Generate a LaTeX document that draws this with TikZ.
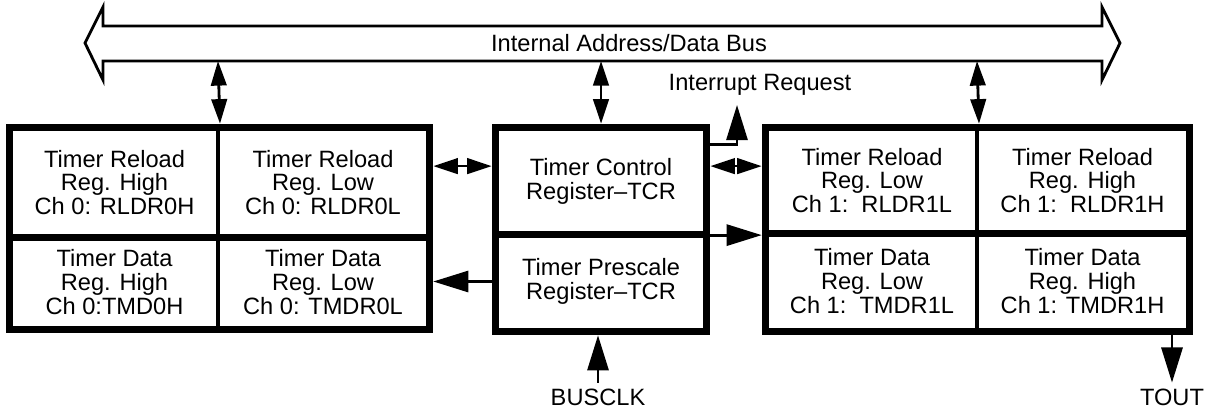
\documentclass[tikz,border=0pt]{standalone}
\usepackage{fontspec}
\setmainfont{Liberation Sans}
\usetikzlibrary{calc,arrows.meta}

\begin{document}
\begin{tikzpicture}[x=0.025cm,y=-0.025cm,
  cell/.style={draw,line width=3pt,align=center,inner sep=0pt,
    font=\fontsize{16.8}{17}\selectfont},
  outline/.style={line width=4.5pt},
  lbl/.style={font=\fontsize{16.8}{17}\selectfont},
  bidir/.style={{Triangle[length=17.5pt,width=11pt]}-{Triangle[length=17.5pt,width=11pt]},line width=2pt},
  feed/.style={-{Triangle[length=25pt,width=15pt]},line width=2pt}]

\useasboundingbox (0,0) rectangle (1214,409);

% ----- helper: register cell between two corners -----
% \RegCell{name}{x1}{y1}{x2}{y2}{text}
\newcommand{\RegCell}[6]{%
  \node[cell,minimum width={(#4-#2)*0.025cm},minimum height={(#5-#3)*0.025cm}]
    (#1) at ({(#2+#4)/2},{(#3+#5)/2}) {#6};
}

% ----- bus -----
\draw[line width=2pt,line join=miter]
  (103,26) -- (1102,26) -- (1102,7) -- (1120,43) -- (1102,80) -- (1102,61)
  -- (103,61) -- (103,80) -- (85,43) -- (103,7) -- cycle;
\node[lbl] (bus) at (629,43) {Internal Address/Data Bus};
\coordinate (bus-l) at (218,61);
\coordinate (bus-c) at (601,61);
\coordinate (bus-r) at (977,61);

% ----- channel 0 -----
\RegCell{lTL}{11}{129}{218}{236}{Timer Reload\\Reg. High\\Ch 0: RLDR0H}
\RegCell{lTR}{218}{129}{428}{236}{Timer Reload\\Reg. Low\\Ch 0: RLDR0L}
\RegCell{lBL}{11}{236}{218}{328}{Timer Data\\Reg. High\\Ch 0:TMD0H}
\RegCell{lBR}{218}{236}{428}{328}{Timer Data\\Reg. Low\\Ch 0: TMDR0L}
\draw[outline] (lTL.north west) rectangle (lBR.south east);
\draw[outline] (lTL.south west) -- (lTR.south east);

% ----- control / prescale -----
\RegCell{ctcr}{497}{129}{705}{233}{Timer Control\\Register--TCR}
\RegCell{cpsr}{497}{233}{705}{330}{Timer Prescale\\Register--TCR}
\draw[outline] (ctcr.north west) rectangle (cpsr.south east);
\draw[outline] (ctcr.south west) -- (ctcr.south east);

% ----- channel 1 -----
\RegCell{rTL}{767}{129}{977}{232}{Timer Reload\\Reg. Low\\Ch 1:\ \ RLDR1L}
\RegCell{rTR}{977}{129}{1188}{232}{Timer Reload\\Reg. High\\Ch 1:\ \ RLDR1H}
\RegCell{rBL}{767}{232}{977}{330}{Timer Data\\Reg. Low\\Ch 1:\ \ TMDR1L}
\RegCell{rBR}{977}{232}{1188}{330}{Timer Data\\Reg. High\\Ch 1: TMDR1H}
\draw[outline] (rTL.north west) rectangle (rBR.south east);
\draw[outline] (rTL.south west) -- (rTR.south east);

% ----- bus links -----
\draw[bidir,shorten >=2.25pt] (bus-l) -- (lTL.north east);
\draw[bidir,shorten >=2.25pt] (bus-c) -- (ctcr.north);
\draw[bidir,shorten >=2.25pt] (bus-r) -- (rTL.north east);

% ----- links between blocks -----
\draw[bidir,shorten >=2.25pt,shorten <=2.25pt] (lTR.east |- ctcr.172) -- (ctcr.172);
\draw[bidir,shorten >=2.25pt,shorten <=2.25pt] (ctcr.8) -- (rTL.west |- ctcr.8);
\draw[feed,shorten >=2.25pt] (ctcr.south east) -- (rTL.south west |- ctcr.south east);
\draw[feed,shorten >=2.25pt] (cpsr.west) -- (lBR.east |- cpsr.west);

% ----- interrupt -----
\node[lbl] (irq) at (760,85) {Interrupt Request};
\coordinate (irq-tip) at (737,105);
\draw[feed] (ctcr.19) -| (irq-tip);

% ----- clock in, timer out -----
\node[lbl,anchor=base,inner sep=1pt] (busclk) at (598,405) {BUSCLK};
\draw[feed,shorten >=2.25pt] ([yshift=3pt]busclk.north) -- (busclk.north |- cpsr.south);
\node[lbl,anchor=base,inner sep=1pt] (tout) at (1172,405) {TOUT};
\draw[feed] (tout.north |- rBR.south) -- ([yshift=3pt]tout.north);

\end{tikzpicture}
\end{document}
